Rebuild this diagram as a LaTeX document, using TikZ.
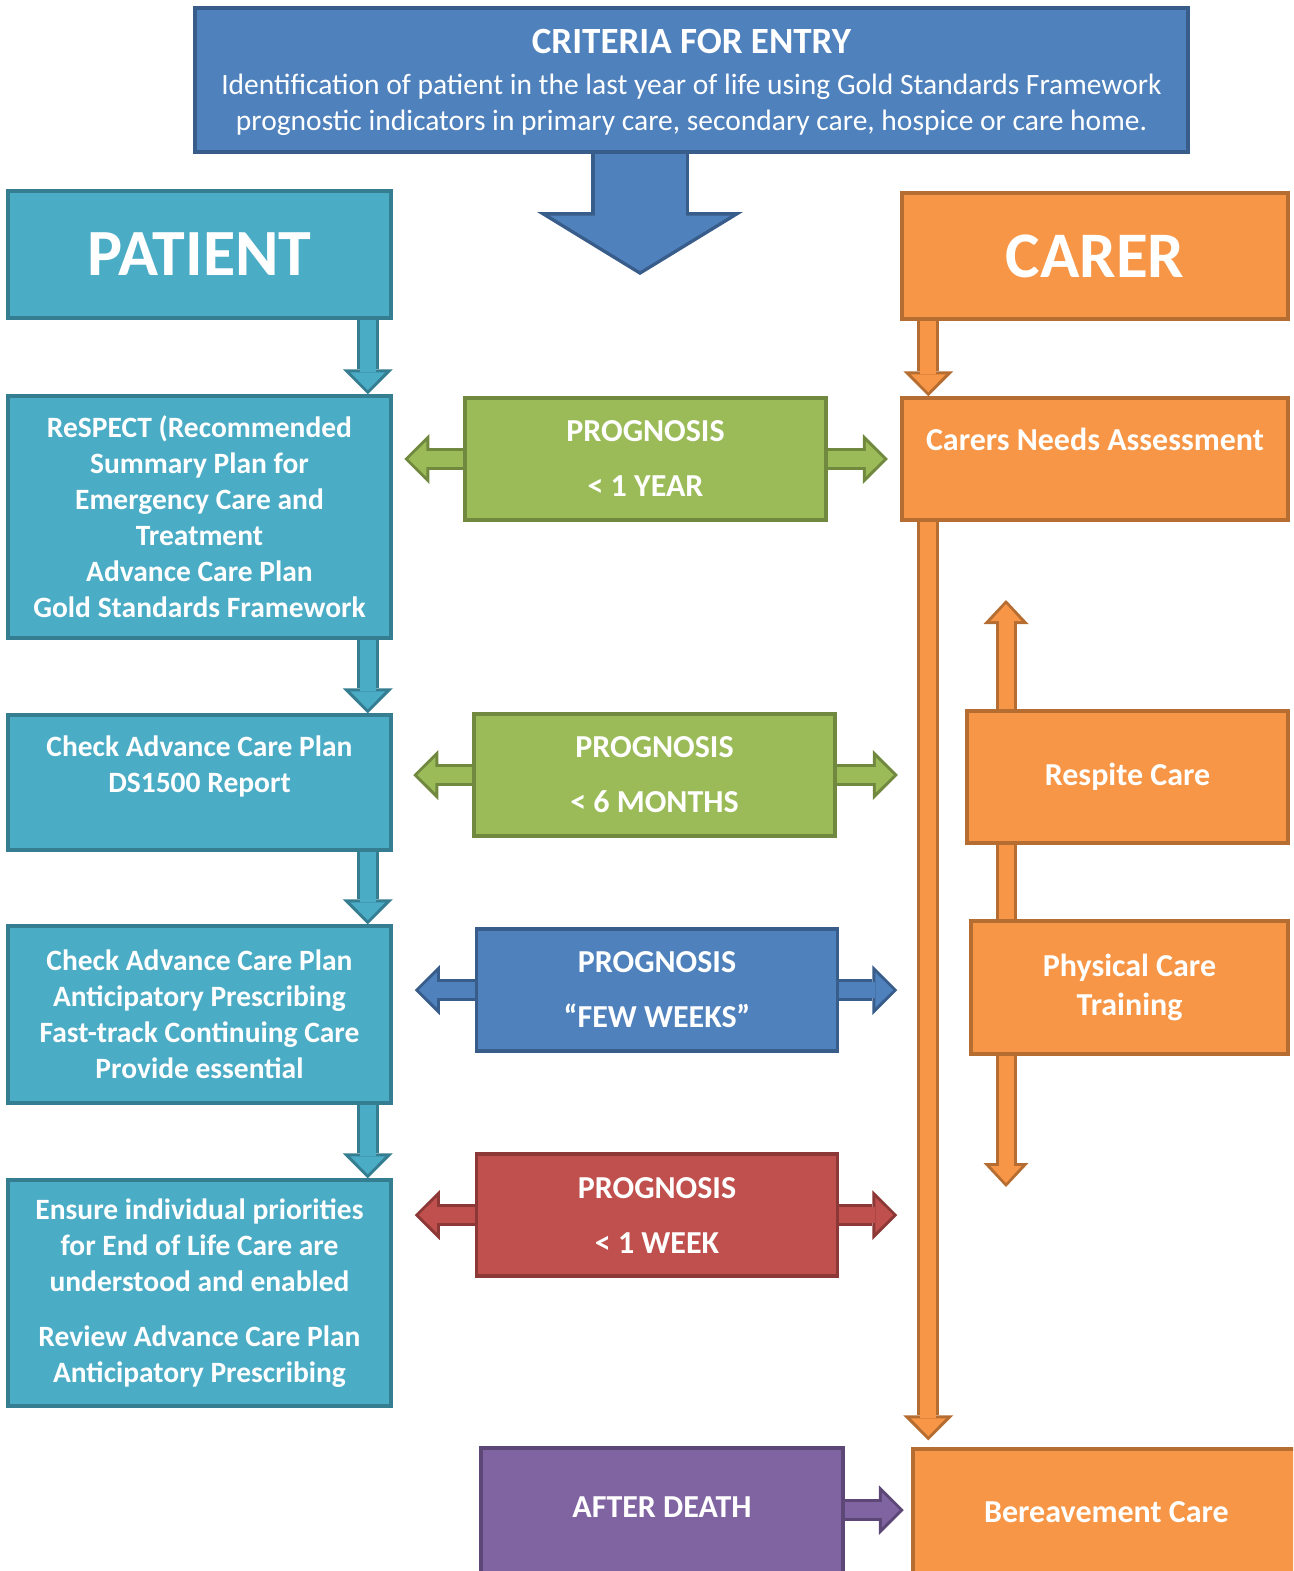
\documentclass[tikz,border=0pt]{standalone}
\usepackage{fontspec}
\setmainfont{Carlito}
\usetikzlibrary{positioning,calc,arrows.meta}

\definecolor{bluefill}{HTML}{4F81BD}
\definecolor{blueline}{HTML}{385D8A}
\definecolor{tealfill}{HTML}{4BACC6}
\definecolor{tealline}{HTML}{357D91}
\definecolor{orangefill}{HTML}{F79646}
\definecolor{orangeline}{HTML}{B66D31}
\definecolor{greenfill}{HTML}{9BBB59}
\definecolor{greenline}{HTML}{71893F}
\definecolor{redfill}{HTML}{C0504D}
\definecolor{redline}{HTML}{8C3836}
\definecolor{purplefill}{HTML}{8064A2}
\definecolor{purpleline}{HTML}{5C4776}

\pgfdeclarelayer{background}
\pgfsetlayers{background,main}

\newcommand{\bodyfont}{\mdseries\fontsize{29.5}{36}\selectfont}

\tikzset{
	box/.style 2 args={rectangle, fill=#1, draw=#2, line width=3.5pt, text=white,
		font=\bfseries\fontsize{32}{39}\selectfont, align=center, inner sep=0pt},
	patientbox/.style={box={tealfill}{tealline}, minimum width=383pt,
		font=\bfseries\fontsize{29.5}{36}\selectfont},
	carerbox/.style={box={orangefill}{orangeline}},
	progbox/.style={minimum width=361pt, minimum height=122pt},
	fat/.style 2 args={draw=#1, line width=16pt, shorten >=4pt,
		-{Triangle[width=35pt,length=18pt,line width=0pt]},
		preaction={draw=#2, line width=22pt, shorten >=0pt,
			-{Triangle[width=50pt,length=25pt,line width=0pt]}}},
	fatboth/.style 2 args={draw=#1, line width=15pt, shorten >=4pt, shorten <=4pt,
		{Triangle[width=31pt,length=17pt,line width=0pt]}-{Triangle[width=31pt,length=17pt,line width=0pt]},
		preaction={draw=#2, line width=21pt, shorten >=0pt, shorten <=0pt,
			{Triangle[width=45pt,length=24pt,line width=0pt]}-{Triangle[width=45pt,length=24pt,line width=0pt]}}},
	bigfat/.style 2 args={draw=#1, line width=91pt, shorten >=4pt,
		-{Triangle[width=181pt,length=55.4pt,line width=0pt]},
		preaction={draw=#2, line width=98pt, shorten >=0pt,
			-{Triangle[width=206pt,length=63pt,line width=0pt]}}}
}

\begin{document}
\begin{tikzpicture}[x=1pt, y=-1pt]
	\useasboundingbox (0,0) rectangle (1293,1571);
	\clip (0,0) rectangle (1293,1571);

	% entry criteria
	\node[box={bluefill}{blueline}, minimum width=993pt, minimum height=144pt,
		font=\bfseries\fontsize{29.5}{36}\selectfont, text depth=0pt] (entry) at (691.5,80)
		{\fontsize{37}{41}\selectfont CRITERIA FOR ENTRY\\[5pt]
		\bodyfont Identification of patient in the last year of life using Gold Standards Framework\\
		\bodyfont prognostic indicators in primary care, secondary care, hospice or care home.};
	\coordinate (entry tip) at (640,275);

	% patient column
	\node[patientbox, minimum height=127pt, font=\bfseries\fontsize{66}{72}\selectfont] (patient) at (199.5,254.5) {PATIENT};
	\node[patientbox, minimum height=242pt] (respect) at (199.5,517)
		{ReSPECT (Recommended\\Summary Plan for\\Emergency Care and\\Treatment\\Advance Care Plan\\Gold Standards Framework};
	\node[patientbox, minimum height=135pt] (check) at (199.5,782.5)
		{Check Advance Care Plan\\DS1500 Report\\~};
	\node[patientbox, minimum height=177pt] (antic) at (199.5,1014.5)
		{Check Advance Care Plan\\Anticipatory Prescribing\\Fast-track Continuing Care\\Provide essential};
	\node[patientbox, minimum height=226pt] (ensure) at (199.5,1293)
		{Ensure individual priorities\\for End of Life Care are\\understood and enabled\\[19pt]Review Advance Care Plan\\Anticipatory Prescribing};

	% prognosis
	\node[box={greenfill}{greenline}, progbox] (prog1) at (645.5,459) {PROGNOSIS\\[16pt]< 1 YEAR};
	\node[box={greenfill}{greenline}, progbox] (prog2) at (654.5,775) {PROGNOSIS\\[16pt]< 6 MONTHS};
	\node[box={bluefill}{blueline}, progbox] (prog3) at (657,990) {PROGNOSIS\\[16pt]“FEW WEEKS”};
	\node[box={redfill}{redline}, progbox] (prog4) at (657,1215) {PROGNOSIS\\[16pt]< 1 WEEK};
	\node[box={purplefill}{purpleline}, minimum width=362pt, minimum height=130pt, text depth=12pt] (death) at (662,1513) {AFTER DEATH};

	% carer column
	\node[carerbox, minimum width=386pt, minimum height=126pt, font=\bfseries\fontsize{65}{72}\selectfont] (carer) at (1095,256) {CARER};
	\node[carerbox, minimum width=386pt, minimum height=122pt] (needs) at (1095,459) {Carers Needs Assessment\\~};
	\node[carerbox, minimum width=321pt, minimum height=132pt] (respite) at (1127.5,777) {Respite Care};
	\node[carerbox, minimum width=317pt, minimum height=133pt] (physical) at (1129.5,987.5) {Physical Care\\Training};
	\node[carerbox, minimum width=387pt, minimum height=131pt, text depth=6pt] (bereave) at (1106.5,1514.5) {Bereavement Care};
	\coordinate (care up) at (1006,600);
	\coordinate (care down) at (1006,1187);

	\begin{pgfonlayer}{background}
		\path[bigfat={bluefill}{blueline}] (entry.south -| entry tip) -- (entry tip);

		\path[fat={tealfill}{tealline}] ([xshift=-25pt]patient.south east) -- ([xshift=-25pt]respect.north east);
		\path[fat={tealfill}{tealline}] ([xshift=-25pt]respect.south east) -- ([xshift=-25pt]check.north east);
		\path[fat={tealfill}{tealline}] ([xshift=-25pt]check.south east) -- ([xshift=-25pt]antic.north east);
		\path[fat={tealfill}{tealline}] ([xshift=-25pt]antic.south east) -- ([xshift=-25pt]ensure.north east);

		\path[fat={greenfill}{greenline}] (prog1.west) -- ($(prog1.west)+(-59,0)$);
		\path[fat={greenfill}{greenline}] (prog1.east) -- ($(prog1.east)+(60,0)$);
		\path[fat={greenfill}{greenline}] (prog2.west) -- ($(prog2.west)+(-59,0)$);
		\path[fat={greenfill}{greenline}] (prog2.east) -- ($(prog2.east)+(61,0)$);
		\path[fat={bluefill}{blueline}] (prog3.west) -- ($(prog3.west)+(-60,0)$);
		\path[fat={bluefill}{blueline}] (prog3.east) -- ($(prog3.east)+(58,0)$);
		\path[fat={redfill}{redline}] (prog4.west) -- ($(prog4.west)+(-60,0)$);
		\path[fat={redfill}{redline}] (prog4.east) -- ($(prog4.east)+(58,0)$);
		\path[fat={purplefill}{purpleline}] ([yshift=3pt]death.east) -- ($(death.east)+(59,-3)$);

		\path[fat={orangefill}{orangeline}] ([xshift=28pt]carer.south west) -- ([xshift=28pt]needs.north west);
		\path[fat={orangefill}{orangeline}] ([xshift=28pt]needs.south west) -- ([xshift=17pt,yshift=7pt]bereave.north west);
		\path[fatboth={orangefill}{orangeline}] (care down) -- (care up);
	\end{pgfonlayer}

\end{tikzpicture}
\end{document}
